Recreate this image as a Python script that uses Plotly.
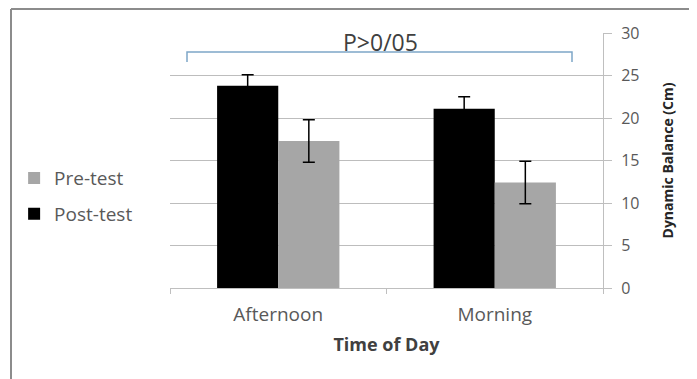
import plotly.graph_objects as go

categories = ["Afternoon", "Morning"]
post_test = [23.8, 21.1]
post_err = [1.3, 1.4]
pre_test = [17.3, 12.4]
pre_err = [2.5, 2.5]
y_ticks = [0, 5, 10, 15, 20, 25, 30]

FONT = "'Open Sans', sans-serif"
GREY_TXT = "#595959"

# figure is offset by 8px body margin in the page; compensate
W, H = 689, 371
L, R, T, B = 162, 94, 25, 91
PW, PH = W - L - R, H - T - B

fig = go.Figure()
fig.add_trace(go.Bar(
    x=categories, y=post_test, name="Post-test",
    marker=dict(color="black", line=dict(width=0)),
    error_y=dict(type="data", array=post_err, color="black", thickness=1.5, width=6),
    legendgroup="post", legendrank=2,
))
fig.add_trace(go.Bar(
    x=categories, y=pre_test, name="Pre-test",
    marker=dict(color="#a6a6a6", line=dict(width=0)),
    error_y=dict(type="data", array=pre_err, color="black", thickness=1.5, width=6),
    legendgroup="pre", legendrank=1,
))

fig.update_layout(
    width=W, height=H,
    margin=dict(l=L, r=R, t=T, b=B, autoexpand=False),
    paper_bgcolor="white", plot_bgcolor="white",
    barmode="group", bargap=0.435, bargroupgap=0,
    font=dict(family=FONT, size=16, color=GREY_TXT),
    legend=dict(
        x=-0.36, y=0.36, xanchor="left", yanchor="middle",
        traceorder="grouped", tracegroupgap=8,
        font=dict(size=19, color=GREY_TXT),
        bgcolor="rgba(0,0,0,0)",
    ),
    xaxis=dict(
        type="category", range=[-0.5, 1.5],
        showline=True, linecolor="#bfbfbf", linewidth=1,
        ticks="outside", tickson="boundaries", ticklen=5, tickcolor="#bfbfbf",
        ticklabelstandoff=9,
        tickfont=dict(size=19, color=GREY_TXT),
        title=dict(text="<b>Time of Day</b>", font=dict(size=18, color="#404040"), standoff=12),
        showgrid=False,
    ),
    yaxis=dict(
        side="right", range=[0, 30], tickvals=y_ticks,
        showline=True, linecolor="#bfbfbf", linewidth=1,
        ticks="outside", ticklen=8, tickcolor="#bfbfbf",
        ticklabelstandoff=6,
        showgrid=True, gridcolor="#bdbdbd", gridwidth=1,
        tickfont=dict(size=16, color=GREY_TXT),
        title=dict(text="<b>Dynamic Balance (Cm)</b>", font=dict(size=14, color="#262626"), standoff=24),
        zeroline=False,
    ),
)

# significance bracket
bx0, bx1 = (187 - 170) / 433, (572 - 170) / 433
by, bt = 27.76, 26.6
fig.add_shape(type="path", xref="paper", yref="y",
              path=f"M {bx0},{bt} L {bx0},{by} L {bx1},{by} L {bx1},{bt}",
              line=dict(color="#7ea6c8", width=1.5))
fig.add_annotation(text="P>0/05", xref="paper", yref="y", x=(380 - 170) / 433, y=28.9,
                   showarrow=False, font=dict(size=23, color="#404040"))

# outer frame (top and left edges), in figure pixels (offset by 8)
fx = (11 - 8 - L) / PW
fy = (T + PH - (9 - 8)) / PH
fig.add_shape(type="line", xref="paper", yref="paper",
              x0=fx, x1=(W + 10 - L) / PW, y0=fy, y1=fy,
              line=dict(color="#8c8c8c", width=2))
fig.add_shape(type="line", xref="paper", yref="paper",
              x0=fx, x1=fx, y0=fy, y1=-B / PH - 0.1,
              line=dict(color="#8c8c8c", width=2))

fig.write_html("out.html")
